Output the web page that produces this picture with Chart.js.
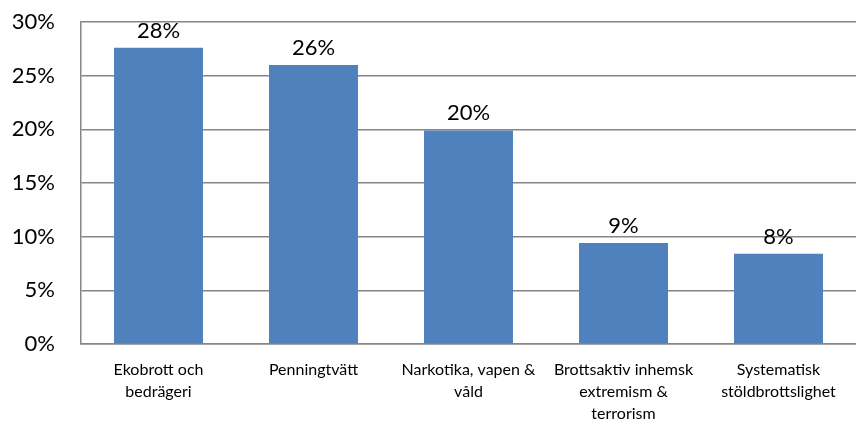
<!DOCTYPE html>
<html>
<head>
<meta charset="utf-8">
<script src="https://cdn.jsdelivr.net/npm/chart.js@4/dist/chart.umd.min.js"></script>
<style>
html,body{margin:0;padding:0;background:#fff;}
#wrap{width:856px;height:421px;position:relative;}
</style>
</head>
<body>
<div id="wrap"><canvas id="c" width="856" height="421"></canvas></div>
<script>
const categories = [
  ["Ekobrott och", "bedrägeri"],
  ["Penningtvätt"],
  ["Narkotika, vapen &", "våld"],
  ["Brottsaktiv inhemsk", "extremism &", "terrorism"],
  ["Systematisk", "stöldbrottslighet"]
];
const values = [27.6, 26.0, 19.9, 9.4, 8.4];
const valueLabels = ["28%", "26%", "20%", "9%", "8%"];
const yTicks = [0, 5, 10, 15, 20, 25, 30];

const FONT = "Lato, 'Open Sans', sans-serif";

const dataLabelPlugin = {
  id: 'dataLabels',
  afterDatasetsDraw(chart) {
    const ctx = chart.ctx;
    const meta = chart.getDatasetMeta(0);
    ctx.save();
    ctx.font = "22px " + FONT;
    ctx.fillStyle = "#000";
    ctx.textAlign = "center";
    ctx.textBaseline = "alphabetic";
    meta.data.forEach((bar, i) => {
      ctx.fillText(valueLabels[i], bar.x, bar.y - 10);
    });
    ctx.restore();
  }
};

new Chart(document.getElementById('c'), {
  type: 'bar',
  data: {
    labels: categories,
    datasets: [{
      data: values,
      backgroundColor: '#4F81BD',
      borderWidth: 0,
      barPercentage: 0.574,
      categoryPercentage: 1.0
    }]
  },
  options: {
    responsive: false,
    animation: false,
    devicePixelRatio: 1,
    layout: { padding: { top: 22, right: 0, left: 0, bottom: 0 } },
    plugins: { legend: { display: false }, tooltip: { enabled: false } },
    scales: {
      x: {
        grid: { display: false, drawTicks: false },
        border: { display: true, color: '#868686', width: 1.5 },
        ticks: {
          color: '#000',
          font: { family: FONT, size: 16, lineHeight: 1.36 },
          padding: 15,
          maxRotation: 0,
          autoSkip: false
        },
        afterFit(scale) {
          scale.height = 77;
          scale.paddingLeft = 0; scale.paddingRight = 0;
          scale.paddingTop = 0; scale.paddingBottom = 0;
        }
      },
      y: {
        min: 0, max: 30,
        afterBuildTicks(scale) { scale.ticks = yTicks.map(v => ({ value: v })); },
        grid: { color: '#868686', lineWidth: 1.5, drawTicks: false },
        border: { display: true, color: '#868686', width: 1.5 },
        ticks: {
          color: '#000',
          font: { family: FONT, size: 22 },
          padding: 26,
          callback: v => v + '%'
        },
        afterFit(scale) {
          scale.width = 81;
          scale.paddingTop = 0; scale.paddingBottom = 0;
          scale.paddingLeft = 0; scale.paddingRight = 0;
        }
      }
    }
  },
  plugins: [dataLabelPlugin]
});
</script>
</body>
</html>
